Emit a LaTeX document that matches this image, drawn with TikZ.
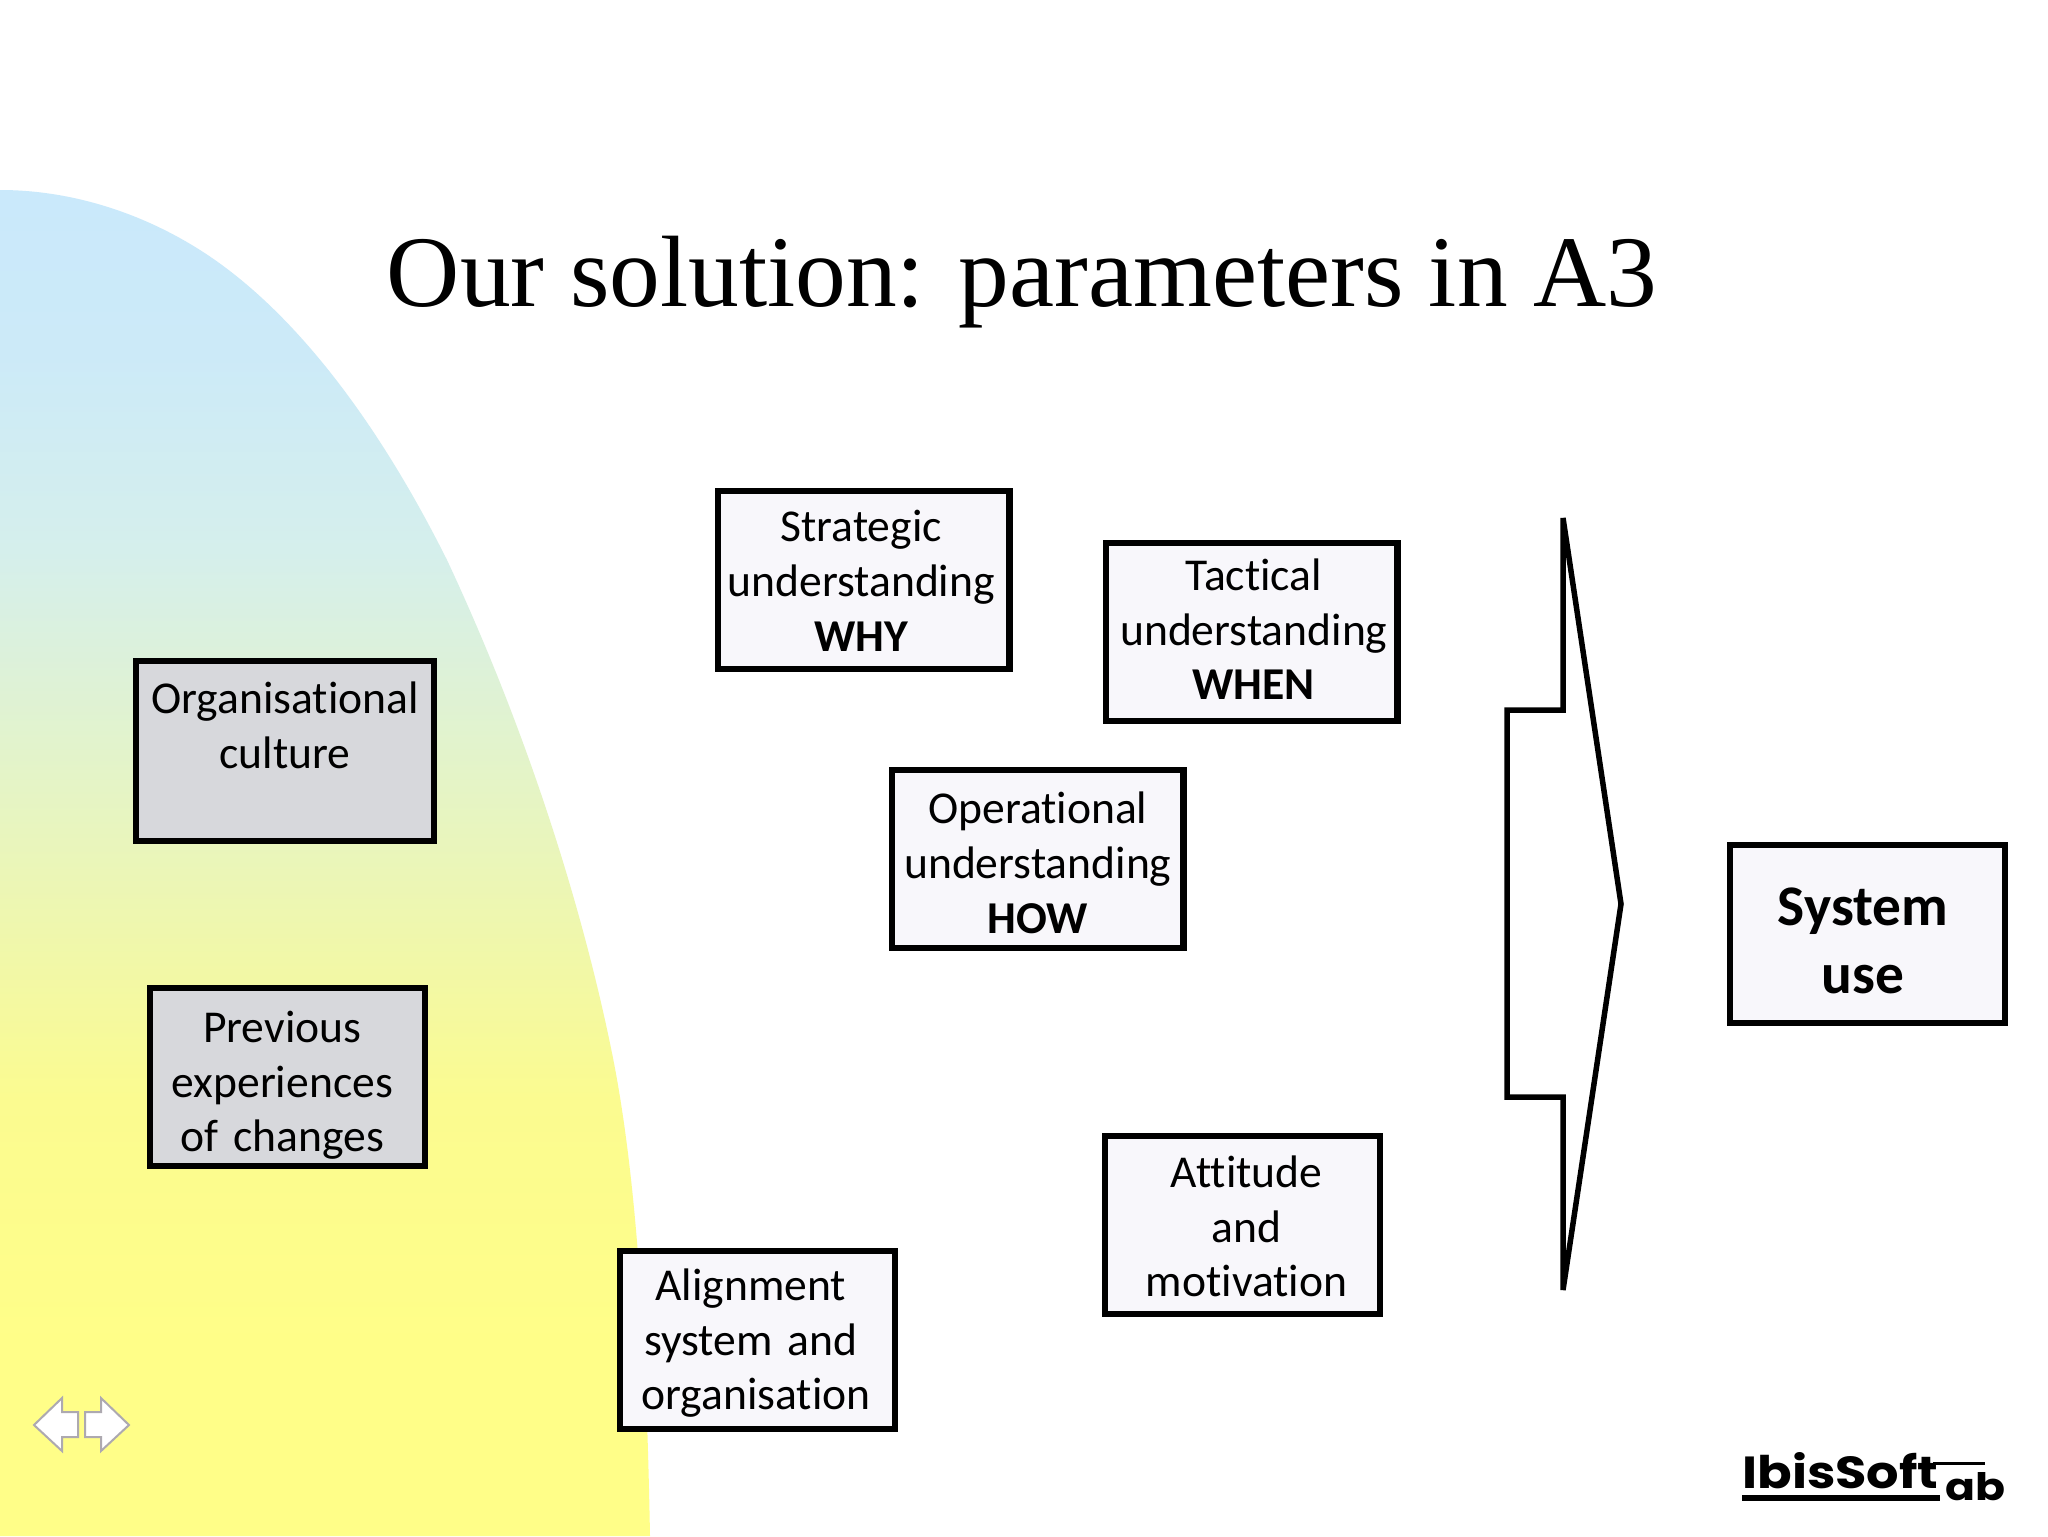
\documentclass[tikz,border=0pt]{standalone}
\usepackage{fontspec}
\usepackage{graphicx}
\setmainfont[Ligatures=NoCommon]{Carlito}
\newfontfamily\titlefont{Liberation Serif}
\newfontfamily\logofont{Poppins}
\definecolor{boxlight}{HTML}{F8F7FB}
\definecolor{boxgray}{HTML}{D7D8DC}
\definecolor{navgray}{HTML}{ADA9B0}
\definecolor{bgA}{HTML}{CAE9FB}
\definecolor{bgB}{HTML}{CCEAF8}
\definecolor{bgC}{HTML}{D5EFEC}
\definecolor{bgD}{HTML}{E8F5BE}
\definecolor{bgE}{HTML}{FBFB90}
\definecolor{bgF}{HTML}{FFFE88}
\pgfdeclareverticalshading{slidebg}{100bp}{color(0bp)=(bgF); color(32bp)=(bgF); color(41.2bp)=(bgE); color(51.2bp)=(bgD); color(61.6bp)=(bgC); color(69bp)=(bgB); color(75bp)=(bgA); color(100bp)=(bgA)}
\tikzset{
  x=0.5pt,y=-0.5pt,
  infobox/.style={draw=black,line width=3.1pt,fill=boxlight,inner sep=0pt,align=center,
    font=\fontsize{22.8}{27.4}\selectfont,anchor=north west,text depth=60pt,text height=15pt,
    minimum height=89pt,text width=#1,minimum width=#1},
  infobox/.default=137.5pt,
  graybox/.style={infobox=#1,fill=boxgray},
  drop/.style={text height={15pt+2*#1}},
  navarrow/.style={draw=navgray,fill=white,line width=1pt},
}
\begin{document}
\begin{tikzpicture}
\useasboundingbox (0,0) rectangle (2048,1536);
\fill[white] (0,0) rectangle (2048,1536);
\shade[shading=slidebg] (0,190) .. controls (70,190) and (140,212) .. (200,250)
  .. controls (290,307) and (375,416) .. (447,560)
  .. controls (522,720) and (581,898) .. (613,1058)
  .. controls (640,1195) and (647,1377) .. (650,1536) -- (0,1536) -- cycle;
\node[font=\titlefont\fontsize{50.7}{60}\selectfont,anchor=base] (title) at (1022,306) {Our solution: parameters in A3};
\node[graybox=149pt,minimum height=90pt,drop=3.6] (org) at (133,658) {Organisational\\culture\\\mbox{}};
\node[graybox=137.5pt,drop=5.1] (prev) at (147,985) {\hspace*{-5.4pt}Previous\\\hspace*{-5.4pt}experiences\\\hspace*{-5.4pt}of changes};
\node[infobox=145.7pt,drop=3.3] (why) at (715,488) {\hspace*{-2.6pt}Strategic\\\hspace*{-2.6pt}understanding\\\hspace*{-2.6pt}\textbf{WHY}};
\node[infobox=145.7pt,drop=1.6] (when) at (1103,540) {\hspace*{2pt}Tactical\\\hspace*{2pt}understanding\\\hspace*{2pt}\textbf{WHEN}};
\node[infobox=145.7pt,drop=4.9] (how) at (889,767) {Operational\\understanding\\\textbf{HOW}};
\node[infobox=137.5pt,drop=3.6] (att) at (1102,1133) {\hspace*{4pt}Attitude\\\hspace*{4pt}and\\\hspace*{4pt}motivation};
\node[infobox=137.5pt,drop=2.6] (align) at (617,1248) {\hspace*{-6.7pt}Alignment\\\hspace*{-6.7pt}system and\\\hspace*{-1.7pt}organisation};
\node[infobox=137.5pt,font=\fontsize{28.7}{34}\selectfont\bfseries,text depth=39pt,text height=30pt] (sys) at (1727,842) {\hspace*{-4.7pt}System\\\hspace*{-4.7pt}use};
\draw[line width=2.75pt,fill=white] (1563,518) -- (1621,904) -- (1563,1290) -- (1563,1097) -- (1507,1097) -- (1507,710) -- (1563,710) -- cycle;
\draw[navarrow] (34,1425) -- (62,1398) -- (62,1412) -- (78,1412) -- (78,1437) -- (62,1437) -- (62,1451) -- cycle;
\draw[navarrow] (129,1425) -- (101,1398) -- (101,1412) -- (85,1412) -- (85,1437) -- (101,1437) -- (101,1451) -- cycle;
\node[anchor=south west,inner sep=0pt] (logo) at (1742,1489) {\resizebox{98pt}{18pt}{\logofont\bfseries IbisSoft}};
\node[anchor=south west,inner sep=0pt] (logoab) at (1945,1501) {\resizebox{30pt}{14pt}{\logofont\bfseries ab}};
\fill (1742,1495) rectangle (1940,1501);
\fill (1933,1462) rectangle (1985,1465);
\end{tikzpicture}
\end{document}
